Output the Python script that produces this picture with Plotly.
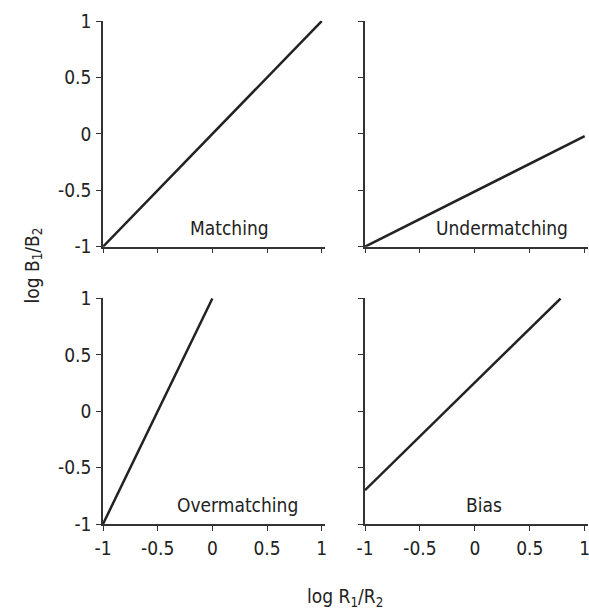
import plotly.graph_objects as go

# Response ratio (log B1/B2) as a function of reinforcement ratio (log R1/R2)
panel_names = ["Matching", "Undermatching", "Overmatching", "Bias"]
x_start = [-1.0, -1.0, -1.0, -1.0]
x_end = [1.0, 1.0, 0.0, 0.78]
y_start = [-1.0, -1.0, -1.0, -0.7]
y_end = [1.0, -0.02, 1.0, 1.0]
label_x = [0.16, 0.25, 0.23, 0.08]
label_y = [-0.83, -0.83, -0.83, -0.83]

tick_vals = [-1, -0.5, 0, 0.5, 1]
tick_text = ["-1", "-0.5", "0", "0.5", "1"]

W, H = 589, 615
FONT = "Liberation Sans Narrow, DejaVu Sans Condensed, Liberation Sans"
INK = "#222222"
FS = 19

# panel placement in pixels: (left, right, top, bottom)
x_pix = [(103, 325), (365, 588)]
y_pix = [(20.5, 246.7), (298, 524)]

fig = go.Figure()

for i, name in enumerate(panel_names):
    row, col = divmod(i, 2)
    n = i + 1
    xa = "x" if n == 1 else f"x{n}"
    ya = "y" if n == 1 else f"y{n}"
    fig.add_trace(go.Scatter(
        x=[x_start[i], x_end[i]], y=[y_start[i], y_end[i]],
        mode="lines", line=dict(color=INK, width=2.5),
        xaxis=xa, yaxis=ya, cliponaxis=False, showlegend=False,
        hoverinfo="skip",
    ))
    fig.add_annotation(
        x=label_x[i], y=label_y[i], xref=xa, yref=ya, text=name,
        showarrow=False, font=dict(family=FONT, size=FS, color=INK),
    )

    xl, xr = x_pix[col]
    yt, yb = y_pix[row]
    common = dict(
        showgrid=False, zeroline=False, showline=True, linecolor="#333333",
        linewidth=1.5, ticks="outside", ticklen=5, tickwidth=1.2,
        tickcolor="#333333", tickvals=tick_vals, ticktext=tick_text,
        tickfont=dict(family=FONT, size=FS, color=INK), automargin=False,
        ticklabeloverflow="allow",
    )
    fig.update_layout(**{
        ("xaxis" if n == 1 else f"xaxis{n}"): dict(
            common, domain=[xl / W, xr / W], range=[-1, 1.03],
            anchor=ya, showticklabels=(row == 1), ticklabelstandoff=1,
        ),
        ("yaxis" if n == 1 else f"yaxis{n}"): dict(
            common, domain=[1 - yb / H, 1 - yt / H], range=[-1, 1.005],
            anchor=xa, showticklabels=(col == 0), ticklabelstandoff=1,
        ),
    })

fig.add_annotation(
    x=18 / W, y=1 - 266 / H, xref="paper", yref="paper",
    text="log B<sub>1</sub>/B<sub>2</sub>", textangle=-90, showarrow=False,
    font=dict(family=FONT, size=FS, color=INK),
)
fig.add_annotation(
    x=345 / W, y=1 - 612 / H, xref="paper", yref="paper", yanchor="bottom",
    text="log R<sub>1</sub>/R<sub>2</sub>", showarrow=False,
    font=dict(family=FONT, size=FS, color=INK),
)

fig.update_layout(
    width=W, height=H, margin=dict(l=0, r=0, t=0, b=0),
    paper_bgcolor="white", plot_bgcolor="white",
)

fig.write_html("out.html")
